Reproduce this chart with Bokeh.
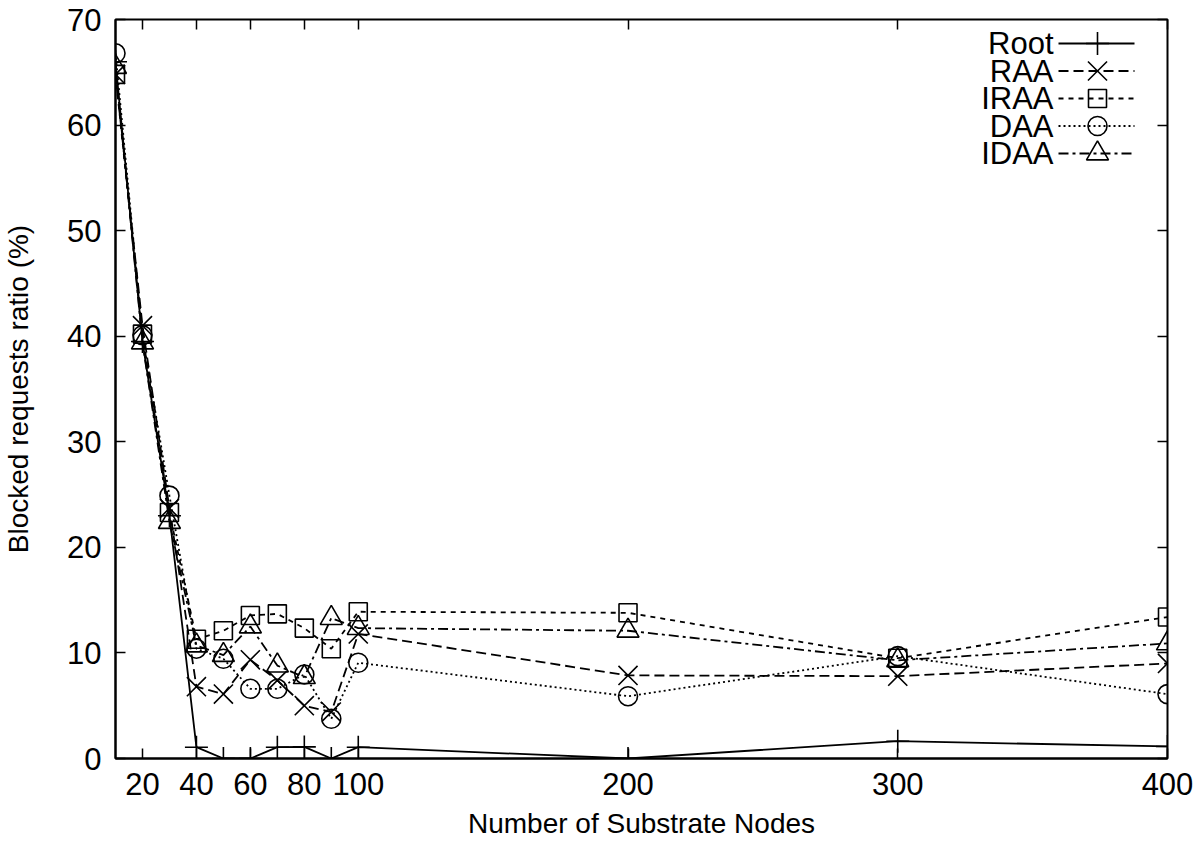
from bokeh.plotting import figure
from bokeh.models import Range1d, FixedTicker, LinearAxis
from bokeh.embed import file_html
from bokeh.resources import INLINE
from bokeh.core.properties import value

# ---------------- data ----------------
nodes = [10, 20, 30, 40, 50, 60, 70, 80, 90, 100, 200, 300, 400]
root = [66.0, 39.5, 23.0, 1.07, 0.0, 0.0, 1.07, 1.1, 0.0, 1.07, 0.0, 1.64, 1.14]
raa = [64.8, 41.0, 23.7, 6.8, 6.1, 9.35, 7.4, 5.0, 4.4, 11.8, 7.87, 7.8, 9.0]
iraa = [64.8, 40.2, 23.3, 11.3, 12.1, 13.55, 13.7, 12.35, 10.4, 13.9, 13.8, 9.5, 13.4]
daa = [66.8, 40.1, 24.9, 10.4, 9.45, 6.6, 6.6, 7.96, 3.76, 9.07, 5.9, 9.7, 6.1]
idaa = [65.5, 39.4, 22.4, 10.7, 9.8, 12.5, 8.8, 7.7, 13.3, 12.35, 12.1, 9.3, 10.9]

series_names = ["Root", "RAA", "IRAA", "DAA", "IDAA"]
series_values = [root, raa, iraa, daa, idaa]
markers = ["cross", "x", "square", "circle", "triangle"]
marker_sizes = [23, 27, 18, 19, 22]
dashes = ["solid", "10 5", "5 5", "2 3", "10 4 3 4"]

x_ticks = [20, 40, 60, 80, 100, 200, 300, 400]
y_ticks = [0, 10, 20, 30, 40, 50, 60, 70]
x_title = "Number of Substrate Nodes"
y_title = "Blocked requests ratio (%)"
X0, X1, Y0, Y1 = 10, 400, 0, 70

# ---------------- layout ----------------
W, H = 1200, 843
FL, FR, FT, FB = 115, 1167, 19, 758  # frame edges in figure px

p = figure(width=W, height=H, output_backend="svg", toolbar_location=None,
           x_range=Range1d(X0, X1), y_range=Range1d(Y0, Y1),
           min_border_left=FL, min_border_right=W - FR,
           min_border_top=FT, min_border_bottom=H - FB)
p.background_fill_color = "white"
p.border_fill_color = "white"
p.outline_line_color = "black"
p.outline_line_width = 2
p.xgrid.visible = False
p.ygrid.visible = False

FONT = "Liberation Sans"

for ax in p.xaxis:
    ax.ticker = FixedTicker(ticks=x_ticks)
    ax.axis_label = x_title
    ax.major_label_standoff = 14
    ax.axis_label_standoff = 10
for ax in p.yaxis:
    ax.ticker = FixedTicker(ticks=y_ticks)
    ax.axis_label = y_title
    ax.major_label_standoff = 14
    ax.axis_label_standoff = 30

for ax in list(p.xaxis) + list(p.yaxis):
    ax.major_tick_in = 10
    ax.major_tick_out = 0
    ax.minor_tick_line_color = None
    ax.major_tick_line_color = "black"
    ax.major_tick_line_width = 1.5
    ax.axis_line_color = "black"
    ax.axis_line_width = 2
    ax.major_label_text_font = FONT
    ax.major_label_text_font_size = "31px"
    ax.major_label_text_color = "black"
    ax.axis_label_text_font = FONT
    ax.axis_label_text_font_size = "28px"
    ax.axis_label_text_font_style = "normal"
    ax.axis_label_text_color = "black"

# mirrored ticks (top / right), without labels
top = LinearAxis(ticker=FixedTicker(ticks=x_ticks), major_tick_in=10, major_tick_out=0,
                 minor_tick_line_color=None, major_label_standoff=0,
                 major_label_overrides={t: "" for t in x_ticks},
                 major_label_text_font_size="1px",
                 axis_line_color=None, major_tick_line_width=1.5)
right = LinearAxis(ticker=FixedTicker(ticks=y_ticks), major_tick_in=10, major_tick_out=0,
                   minor_tick_line_color=None, major_label_standoff=0,
                   major_label_overrides={t: "" for t in y_ticks},
                   major_label_text_font_size="1px",
                   axis_line_color=None, major_tick_line_width=1.5)
p.add_layout(top, "above")
p.add_layout(right, "right")

# ---------------- series ----------------
for name, vals, mk, ms, dash in zip(series_names, series_values, markers, marker_sizes, dashes):
    p.line(nodes, vals, line_color="black", line_width=1.8, line_dash=dash)
    p.scatter(nodes, vals, marker=mk, size=ms, line_color="black", line_width=1.6,
              fill_alpha=0)

# ---------------- legend (top right, text left of sample) ----------------
def dx(px):
    return X0 + (px - FL) / (FR - FL) * (X1 - X0)


def dy(py):
    return Y1 - (py - FT) / (FB - FT) * (Y1 - Y0)


row_px = [43, 70.5, 98, 125.5, 153]
for i, (name, mk, ms, dash) in enumerate(zip(series_names, markers, marker_sizes, dashes)):
    yy = dy(row_px[i])
    p.text([dx(1053)], [yy], text=[name], text_align="right", text_baseline="middle",
           text_font=value(FONT), text_font_size="31px", text_color="black")
    p.line([dx(1058), dx(1134)], [yy, yy], line_color="black", line_width=1.8,
           line_dash=dash)
    p.scatter([dx(1097)], [yy], marker=mk, size=ms, line_color="black", line_width=1.6,
              fill_alpha=0)

open("out.html", "w").write(file_html(p, INLINE))
